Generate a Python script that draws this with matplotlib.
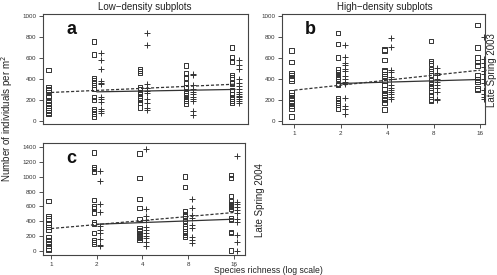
import matplotlib
matplotlib.use("Agg")
import matplotlib.pyplot as plt
import numpy as np

plt.rcParams['font.family'] = ['Liberation Sans', 'DejaVu Sans']

richness = [1, 2, 4, 8, 16]
tick_labels = ['1', '2', '4', '8', '16']

# Panel a (low density, 2003): squares and pluses per richness level
a_squares = [
    [486, 320, 300, 290, 240, 225, 175, 160, 145, 125, 100, 80, 65],
    [757, 635, 405, 384, 365, 345, 302, 226, 200, 111, 89, 67, 41],
    [494, 478, 459, 318, 306, 274, 255, 223, 197, 172, 127],
    [529, 452, 414, 363, 318, 287, 261, 242, 229, 210, 191, 166],
    [701, 605, 567, 436, 414, 363, 357, 296, 255, 229, 210, 191, 172],
]
a_plus = [
    [],
    [650, 581, 492, 378, 365, 352, 226, 207, 181, 117, 98, 73],
    [841, 723, 350, 318, 309, 283, 268, 213, 166, 127, 108],
    [446, 433, 341, 300, 277, 252, 229, 207, 185, 96, 54],
    [580, 532, 494, 395, 363, 331, 300, 280, 261, 242, 223, 204, 185, 166],
]
a_dash = [271, 350]
a_solid = [277, 300]

# Panel b (high density, 2003)
b_squares = [
    [673, 562, 454, 435, 403, 384, 270, 245, 219, 194, 168, 143, 117, 41],
    [841, 733, 606, 492, 467, 435, 416, 403, 352, 340, 212, 193, 174, 149, 111],
    [682, 672, 580, 484, 471, 446, 427, 382, 341, 299, 268, 245, 223, 197, 172, 108],
    [764, 573, 548, 497, 475, 436, 389, 363, 331, 312, 277, 245, 204, 188],
    [917, 701, 605, 561, 529, 436, 395, 369, 309, 293],
]
b_plus = [
    [],
    [724, 612, 555, 530, 498, 479, 429, 403, 371, 352, 219, 143, 117, 67],
    [787, 707, 484, 468, 414, 398, 341, 318, 299, 277, 255, 229, 213],
    [500, 459, 433, 395, 369, 344, 312, 277, 213, 197],
    [803, 586, 554, 516, 478, 452, 401, 357, 299, 255, 229, 210],
]
b_dash = [293, 484]
b_solid = [357, 395]

# Panel c (2004)
c_squares = [
    [670, 470, 435, 380, 355, 320, 290, 185, 150, 105, 70, 35, 10],
    [1325, 1130, 1100, 1065, 688, 600, 570, 516, 381, 363, 240, 150, 121, 94],
    [1310, 982, 702, 576, 428, 302, 284, 261, 239, 216, 194, 171, 149],
    [1004, 860, 540, 500, 473, 437, 405, 329, 302, 261, 216, 185],
    [1027, 982, 743, 666, 635, 612, 590, 567, 437, 419, 257, 239, 5],
]
c_plus = [
    [],
    [1075, 948, 634, 524, 337, 288, 236, 160, 79, 62],
    [1373, 567, 473, 419, 329, 284, 239, 203, 171, 126, 68],
    [698, 576, 486, 441, 351, 306, 194, 149, 104],
    [1283, 666, 630, 599, 554, 509, 428, 392, 216, 117, 5],
]
c_dash = [302, 518]
c_solid = [360, 428]

W, H = 497, 275
fig = plt.figure(figsize=(W / 100, H / 100), dpi=100)

def rect(l, r, t, b):
    return [l / W, 1 - b / H, (r - l) / W, (b - t) / H]

ax_a = fig.add_axes(rect(43, 248, 14, 124))
ax_b = fig.add_axes(rect(282, 485, 14, 124))
ax_c = fig.add_axes(rect(43, 245, 143, 255))

SQ_OFF = 2 ** (-0.06)
PL_OFF = 2 ** (0.08)
col = '#333333'

def draw(ax, squares, plus, dash, solid, ylim, yticks, xlim, letter, show_x):
    ax.set_xscale('log')
    for r, vals in zip(richness, squares):
        if vals:
            ax.scatter([r * SQ_OFF] * len(vals), vals, marker='s', s=10,
                       facecolors='none', edgecolors=col, linewidths=0.7, zorder=3)
    for r, vals in zip(richness, plus):
        if vals:
            ax.scatter([r * PL_OFF] * len(vals), vals, marker='+', s=16,
                       color=col, linewidths=0.7, zorder=3)
    ax.plot([richness[0], richness[-1]], dash, linestyle=(0, (2.5, 1.5)),
            color=col, linewidth=0.9)
    ax.plot([richness[1], richness[-1]], solid, linestyle='-',
            color=col, linewidth=0.9)
    ax.set_xlim(*xlim)
    ax.set_ylim(*ylim)
    ax.set_yticks(yticks)
    ax.set_yticklabels([str(v) for v in yticks], fontsize=4.5, color=col)
    ax.minorticks_off()
    if show_x:
        ax.set_xticks(richness)
        ax.set_xticklabels(tick_labels, fontsize=4.5, color=col)
    else:
        ax.set_xticks([])
    ax.tick_params(length=3, width=0.6, color=col, pad=2)
    for s in ax.spines.values():
        s.set_linewidth(0.8)
        s.set_color('#444444')
    ax.text(0.14, 0.86, letter, transform=ax.transAxes, fontsize=13,
            fontweight='bold', ha='center', va='center', color='#111111')

draw(ax_a, a_squares, a_plus, a_dash, a_solid, (-30, 1020),
     [0, 200, 400, 600, 800, 1000], (0.885, 19.5), 'a', False)
draw(ax_b, b_squares, b_plus, b_dash, b_solid, (-30, 1020),
     [0, 200, 400, 600, 800, 1000], (0.83, 17.2), 'b', True)
draw(ax_c, c_squares, c_plus, c_dash, c_solid, (-54, 1454),
     [0, 200, 400, 600, 800, 1000, 1200, 1400], (0.885, 19.0), 'c', True)

fig.text(145 / W, 1 - 7 / H, 'Low\u2212density subplots', fontsize=7,
         ha='center', va='center', color='#222222')
fig.text(385 / W, 1 - 7 / H, 'High\u2212density subplots', fontsize=7,
         ha='center', va='center', color='#222222')
fig.text(492 / W, 1 - 70 / H, 'Late Spring 2003', fontsize=7, rotation=90,
         ha='center', va='center', color='#222222')
fig.text(260 / W, 1 - 200 / H, 'Late Spring 2004', fontsize=7, rotation=90,
         ha='center', va='center', color='#222222')
fig.text(7 / W, 1 - 118 / H, 'Number of individuals per m$^2$', fontsize=7,
         rotation=90, ha='center', va='center', color='#222222')
fig.text(268 / W, 0.0, 'Species richness (log scale)', fontsize=6.2,
         ha='center', va='bottom', color='#222222')

fig.savefig('out.png', dpi=100)
